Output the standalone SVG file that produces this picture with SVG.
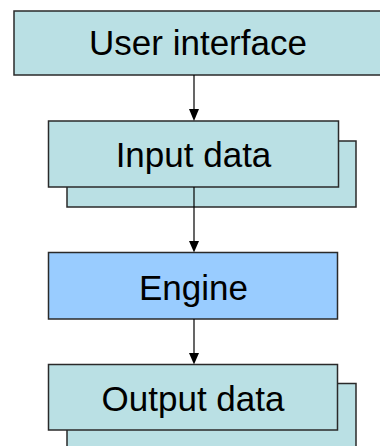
<svg xmlns="http://www.w3.org/2000/svg" width="380" height="446" viewBox="0 0 380 446">
  <style>
    .box { fill: #BAE0E4; stroke: #2a2a2a; stroke-width: 1.5; }
    .engine { fill: #99CCFF; stroke: #2a2a2a; stroke-width: 1.5; }
    .label { font-family: "Liberation Sans", Arial, sans-serif; font-size: 35px; fill: #000; text-anchor: middle; }
    .wire { stroke: #000; stroke-width: 1.2; }
    .head { fill: #000; }
  </style>
  <rect width="380" height="446" fill="#fff"/>

  <g id="user-interface">
    <rect class="box" x="14" y="11" width="368" height="64"/>
    <text class="label" x="198" y="55" font-size="35.5">User interface</text>
  </g>

  <g id="input-data">
    <rect class="box" x="67" y="141" width="289" height="66"/>
    <rect class="box" x="48.5" y="121" width="290" height="66"/>
    <text class="label" x="193.5" y="166.5">Input data</text>
  </g>

  <g id="engine">
    <rect class="engine" x="48.5" y="252.5" width="289" height="66.5"/>
    <text class="label" x="193.5" y="300">Engine</text>
  </g>

  <g id="output-data">
    <rect class="box" x="67" y="383.5" width="289" height="80"/>
    <rect class="box" x="48.5" y="364.5" width="289" height="65.5"/>
    <text class="label" x="193" y="411">Output data</text>
  </g>

  <g id="connectors">
    <line class="wire" x1="194" y1="75" x2="194" y2="109"/>
    <path class="head" d="M189,109 L199,109 L194,121 Z"/>
    <line class="wire" x1="194" y1="187" x2="194" y2="241"/>
    <path class="head" d="M189,241 L199,241 L194,252.5 Z"/>
    <line class="wire" x1="194" y1="319" x2="194" y2="353"/>
    <path class="head" d="M189,353 L199,353 L194,364.5 Z"/>
  </g>
</svg>
